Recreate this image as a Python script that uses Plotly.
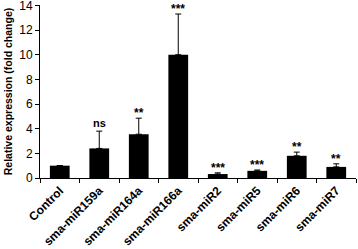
import plotly.graph_objects as go

categories = ["Control", "sma-miR159a", "sma-miR164a", "sma-miR166a",
              "sma-miR2", "sma-miR5", "sma-miR6", "sma-miR7"]
values = [1.0, 2.4, 3.55, 10.0, 0.32, 0.58, 1.8, 0.9]
errors = [0.0, 1.4, 1.3, 3.3, 0.1, 0.07, 0.3, 0.25]
signif = ["", "ns", "**", "***", "***", "***", "**", "**"]
yticks = [0, 2, 4, 6, 8, 10, 12, 14]

FONT = "Liberation Sans"

fig = go.Figure(go.Bar(
    x=categories, y=values,
    marker=dict(color="black", line=dict(color="black", width=0)),
    width=0.5,
    error_y=dict(type="data", array=errors, arrayminus=[0]*len(errors),
                 symmetric=False, color="black", thickness=1, width=3),
))

for c, v, e, s in zip(categories, values, errors, signif):
    if s:
        is_ns = s == "ns"
        fig.add_annotation(x=c, y=v + e, text=f"<b>{s}</b>", showarrow=False,
                           yanchor="bottom", yshift=0 if is_ns else -4,
                           font=dict(family=FONT, size=11 if is_ns else 12,
                                     color="black"))

fig.update_layout(
    width=358, height=249,
    margin=dict(l=40, r=2, t=5, b=71),
    paper_bgcolor="white", plot_bgcolor="white",
    showlegend=False, bargap=0.5,
    font=dict(family=FONT, color="black"),
)
fig.update_xaxes(
    automargin=False, ticklabeloverflow="allow",
    showline=True, linecolor="black", linewidth=1,
    ticks="outside", tickson="boundaries", ticklen=4, tickcolor="black",
    tickangle=-45, tickfont=dict(family=FONT, size=12, color="black"),
    tickprefix="<b>", ticksuffix="</b>",
)
fig.update_yaxes(
    automargin=False, ticklabeloverflow="allow",
    range=[0, 14.03], tickvals=yticks, showline=True, linecolor="black", linewidth=1,
    ticks="outside", ticklen=4, tickcolor="black", showgrid=False, zeroline=False,
    tickfont=dict(family=FONT, size=12, color="black"),
    tickprefix="<b>", ticksuffix="</b>",
    title=dict(text="<b>Relative expression (fold change)</b>",
               font=dict(family=FONT, size=10.5, color="black"), standoff=4),
)

fig.write_html("out.html", config={"displayModeBar": False},
               post_script="document.body.style.margin='0';")
